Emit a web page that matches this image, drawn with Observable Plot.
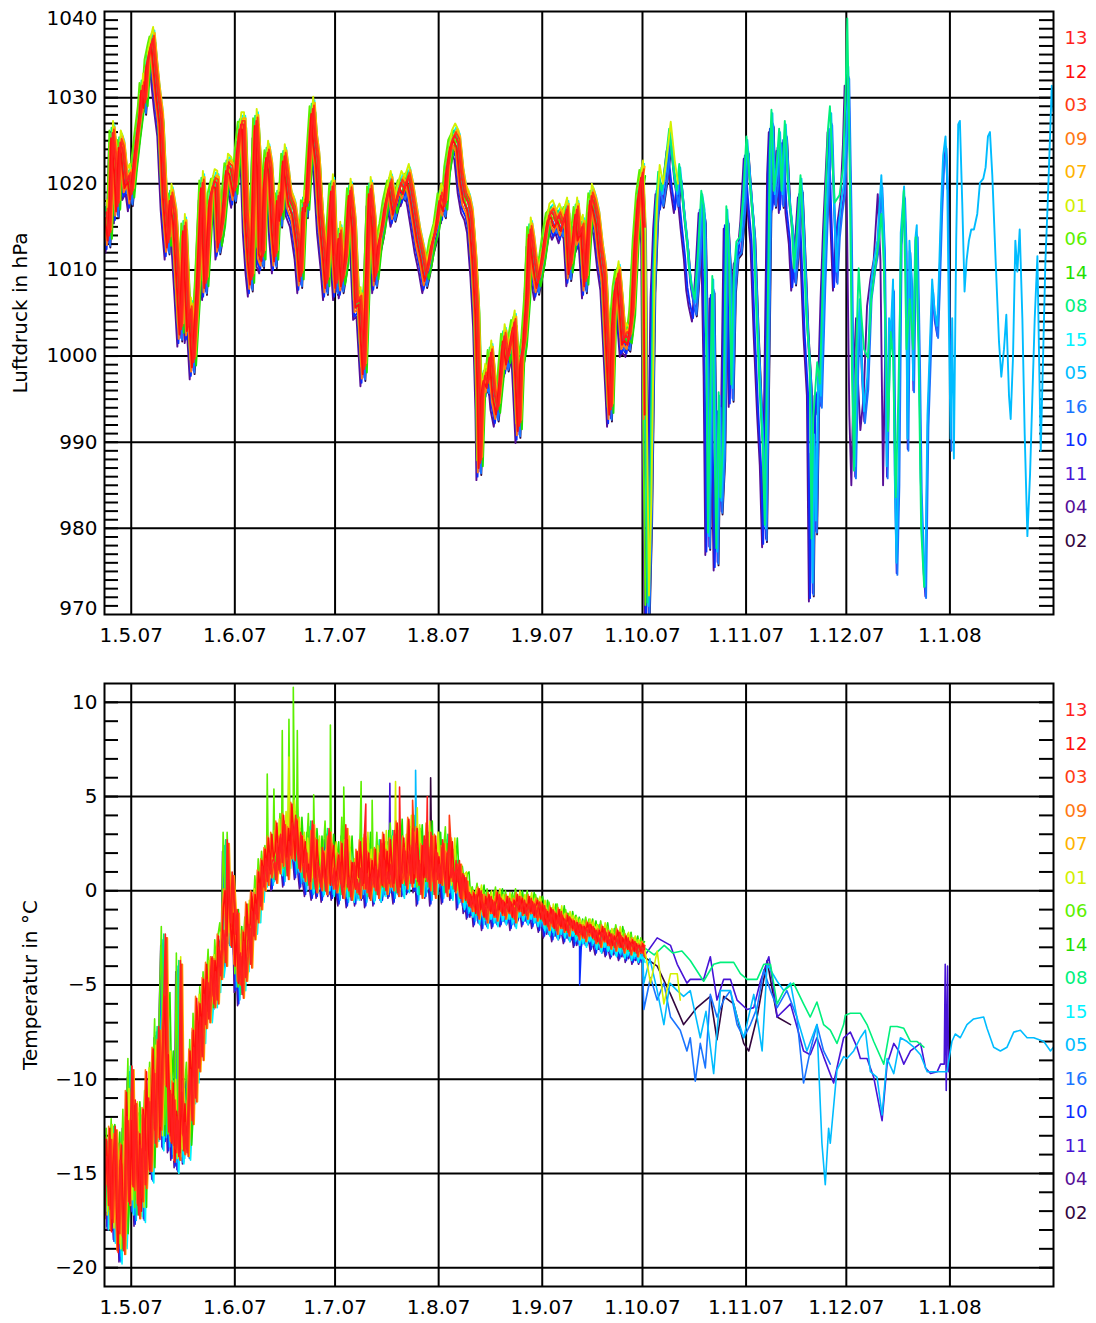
<!DOCTYPE html>
<html>
<head>
<meta charset="utf-8">
<script src="https://cdn.jsdelivr.net/npm/d3@7"></script>
<script src="https://cdn.jsdelivr.net/npm/@observablehq/plot@0.6"></script>
<style>
  html, body { margin: 0; padding: 0; background: #fff; }
  #chart svg { display: block; }
</style>
</head>
<body>
<div id="chart"></div>
<script>
// Buoy identifiers (legend order, top to bottom) and their colours
const buoys = ["13","12","03","09","07","01","06","14","08","15","05","16","10","11","04","02"];
const buoyColors = ["#ff1f1f","#ff0d0d","#ff3c14","#ff7814","#ffb300","#d2f000","#5cf000","#1fdf00",
                    "#00f07c","#00f2ff","#00bcff","#1a74ff","#0a2cff","#4814d6","#560f98","#33063f"];

// Month ticks of the time axis
const monthTicks  = ["2007-05-01","2007-06-01","2007-07-01","2007-08-01","2007-09-01","2007-10-01","2007-11-01","2007-12-01","2008-01-01"];
const monthLabels = ["1.5.07","1.6.07","1.7.07","1.8.07","1.9.07","1.10.07","1.11.07","1.12.07","1.1.08"];

// Value axes
const pressureTicks = [970, 980, 990, 1000, 1010, 1020, 1030, 1040];
const temperatureTicks = [-20, -15, -10, -5, 0, 5, 10];

// Time is given in days after 1 May 2007
// Common pressure record of the drifting array (hPa), until the array breaks up in early October
const pressEnsemble = [
[-7.6,1016.5],[-6.7,1013.8],[-6.2,1018.4],[-5.7,1025.7],[-4.7,1021.5],[-4.2,1017.2],[-3.4,1024.6],[-2.7,1023.8],
[-1.7,1019.9],[-0.7,1020.7],[0,1018.6],[0.8,1021.9],[1.8,1025.4],[2.8,1028.5],[3.3,1031.2],[4.0,1029.2],[4.8,1033.9],
[5.8,1035.8],[6.3,1036.6],[7.0,1033.5],[7.8,1030.4],[8.8,1027.3],[9.8,1018.8],[10.5,1015.3],[11.0,1013.0],[11.8,1018.4],
[12.8,1016.1],[14.0,1008.3],[14.8,1002.9],[15.8,1014.9],[17.0,1003.3],[17.6,1005.2],[18.5,999.1],[19.9,1008.3],
[21.2,1019.9],[22.2,1008.3],[23.7,1018.4],[24.7,1020.1],[25.5,1019.9],[26.2,1013.0],[27.2,1015.3],[28.7,1021.9],
[29.7,1021.5],[30.9,1019.0],[31.9,1023.8],[32.7,1026.7],[33.5,1026.7],[34.4,1016.1],[35.2,1011.4],[35.9,1008.7],
[36.7,1019.9],[37.3,1027.1],[38.0,1022.3],[38.5,1012.2],[39.3,1011.4],[39.9,1019.6],[40.7,1023.4],[41.5,1021.5],
[42.3,1015.3],[43.1,1011.4],[43.9,1018.4],[44.7,1016.1],[45.7,1023.0],[46.5,1020.7],[47.3,1018.0],[48.5,1016.8],
[49.9,1013.0],[50.7,1009.1],[51.6,1017.6],[52.4,1017.2],[53.4,1023.8],[54.2,1028.5],[54.8,1025.0],[55.6,1022.6],
[56.6,1016.1],[57.6,1012.2],[58.4,1008.3],[59.4,1015.3],[60.1,1019.5],[60.8,1012.0],[61.4,1008.3],[62.3,1014.0],
[63.1,1008.5],[64.1,1011.0],[65.4,1019.0],[66.4,1015.3],[67.4,1006.0],[68.4,1006.4],[69.6,998.3],[71.4,1019.2],
[72.4,1015.3],[73.1,1009.1],[74.1,1013.0],[75.1,1014.9],[76.1,1017.6],[77.4,1019.9],[78.6,1016.8],[79.6,1018.4],
[80.6,1019.9],[81.6,1019.2],[82.8,1020.7],[83.6,1019.2],[84.6,1016.8],[85.8,1013.8],[87.1,1011.4],[88.1,1009.1],
[89.0,1010.7],[90.0,1013.0],[91.3,1014.9],[92.5,1018.4],[93.7,1017.2],[94.5,1021.5],[95.7,1024.6],[96.7,1025.4],
[97.7,1024.6],[98.7,1020.7],[99.7,1018.4],[100.7,1017.6],[101.5,1016.1],[102.5,1011.0],[103.3,1005.2],[104.0,995.6],
[104.3,987.4],[105.0,995.6],[105.7,997.5],[106.7,996.7],[107.5,1000.2],[108.5,995.6],[109.5,993.6],[110.5,997.5],
[111.5,1002.1],[112.5,999.4],[113.5,1001.4],[114.5,1003.7],[115.3,997.5],[116.0,991.7],[116.7,999.4],[117.5,1001.4],
[118.5,1006.8],[119.3,1014.5],[119.9,1013.0],[120.6,1010.7],[121.6,1008.3],[122.9,1011.0],[123.9,1013.8],[124.9,1016.1],
[125.9,1016.5],[126.9,1015.3],[127.9,1016.1],[128.9,1014.9],[130.2,1016.8],[131.2,1009.9],[132.2,1013.0],[133.2,1016.8],
[133.9,1013.8],[134.9,1014.8],[135.9,1008.5],[136.9,1014.8],[137.6,1018.4],[138.4,1017.5],[139.4,1015.7],[140.4,1012.1],
[141.4,1009.4],[142.2,1003.1],[142.9,997.7],[143.4,993.6],[144.2,1004.0],[144.9,1007.6],[145.6,1009.4],[146.4,1005.8],
[147.2,1001.7],[147.9,1002.2],[148.9,1001.7],[149.9,1004.9],[150.9,1013.0],[151.9,1018.4],[152.9,1021.1],[153.6,1014.8],
[154.0,993.6]
];

// Pressure of the remaining buoys from October on (hPa)
const pressLate = [
[154.7,970.6],[155.4,981.4],[156.4,1008.5],[157.2,1016.6],[157.9,1020.6],[158.9,1018.4],[159.9,1021.1],[161.2,1025.6],
[162.4,1021.1],[163.4,1018.4],[164.2,1021.5],[165.4,1016.6],[166.4,1013.0],[167.1,1009.4],[167.8,1007.6],[168.8,1005.8],
[169.8,1011.2],[170.8,1018.4],[171.5,1016.6],[172.3,999.5],[172.8,978.7],[173.3,990.5],[174.1,1008.5],[174.8,988.2],
[175.3,976.9],[176.0,995.0],[176.5,982.8],[177.3,989.1],[178.3,1016.6],[179.1,1010.7],[179.8,995.9],[180.5,1008.5],
[181.3,1012.5],[182.3,1013.0],[183.3,1017.5],[184.3,1024.7],[185.3,1019.3],[186.3,1014.8],[187.3,1004.0],[188.3,995.0],
[189.1,989.1],[189.8,979.6],[190.5,999.5],[191.3,1022.9],[191.8,1027.8],[192.5,1018.4],[193.3,1021.1],[194.1,1025.6],
[194.8,1018.4],[195.8,1026.5],[196.8,1018.4],[197.8,1014.8],[198.5,1009.4],[199.3,1013.0],[200.5,1020.2],[201.2,1013.9],
[202.2,1004.0],[203.2,997.2],[203.8,973.3],[204.3,990.5],[204.8,980.5],[205.5,997.2],[206.3,995.0],[207.3,1008.5],
[208.0,1016.1],[208.7,1022.0],[209.4,1027.8],[210.2,1017.5],[211.0,1009.4],[211.7,1014.8],[212.4,1017.5],[213.2,1019.7],
[214.0,1026.5],[214.5,1033.2],[215.2,1017.5],[215.9,995.0],[216.5,986.8],[217.2,999.5],[217.9,1006.2],[218.4,999.5],
[219.2,993.2],[220.2,997.2],[221.2,1007.6],[222.2,1010.7],[223.2,1013.0],[224.4,1020.6],[225.2,1013.0],[226.0,986.8],
[226.7,1004.0],[227.2,1002.2],[227.9,1008.5],[228.4,985.9],[228.9,975.6],[229.5,985.9],[230.2,1013.9],[231.2,1019.3],
[231.7,1013.0],[232.2,990.0],[232.8,1013.0],[233.4,1008.5],[233.9,996.8],[234.5,1013.0],[235.0,1014.8],[235.7,999.5],
[236.2,985.0],[237.0,975.6],[237.5,972.9],[238.2,992.7],[239.0,1001.7],[239.6,1008.5],[240.3,1004.9],[241.1,1003.1],
[241.6,1008.5],[242.3,1017.5],[242.9,1022.9],[243.6,1025.1],[244.1,1020.2],[244.6,1004.0],[245.1,990.0],[245.6,1004.0],
[246.1,987.7],[246.8,1013.0],[247.4,1026.5],[247.9,1026.9],[248.6,1017.5],[249.3,1007.1],[249.9,1010.7],[250.6,1013.0],
[251.3,1014.3],[252.1,1014.3],[253.1,1016.1],[253.9,1019.7],[254.9,1020.2],[255.6,1021.5],[256.3,1025.1],[256.9,1025.6],
[257.6,1020.6],[258.6,1010.7],[259.6,1001.3],[260.3,997.2],[261.1,1000.4],[261.8,1004.4],[262.6,995.0],[263.1,992.3],
[263.8,999.5],[264.5,1013.0],[265.1,1009.4],[265.8,1014.3],[266.6,1004.0],[267.3,990.5],[268.1,978.7],[268.9,985.9],
[269.6,995.0],[270.3,1004.0],[271.1,1011.2],[271.6,999.5],[272.1,988.6],[272.8,999.5],[273.5,1010.7],[274.2,1017.5],
[274.8,1024.2],[275.4,1031.0],[275.9,1028.0]
];

// Buoy 08 in December, where it departs from the others (hPa)
const press08Late = [
[203.2,999.0],[203.8,978.0],[204.3,992.0],[205.5,998.5],[206.3,996.0],[207.3,1010.0],[208.0,1018.0],[208.7,1025.5],
[209.3,1028.2],[210.0,1022.0],[210.7,1017.0],[212.2,1017.9],[213.2,1021.0],[214.0,1030.0],[214.5,1038.4],[215.2,1022.0],
[215.9,997.0],[216.5,985.9],[217.2,1000.5],[217.9,1009.4],[218.7,1004.0],[219.5,1000.0],[220.7,999.0],[221.7,1006.0],
[222.7,1009.0],[223.7,1012.0],[224.7,1015.7],[225.4,1010.0],[226.7,990.5],[227.5,1002.0],[228.2,999.0],[229.0,982.8],
[229.8,995.0],[230.6,1012.0],[231.4,1018.4],[232.2,1000.0],[233.2,1005.8],[234.2,1000.0],[235.0,1013.0],[235.8,1000.0],
[236.6,979.2],[237.5,972.4]
];

// Per-buoy time shift (hours), pressure offset (hPa) and last day of the pressure record
const pressLagHours = [3, -8, 12, -14, 18, 6, -20, 22, -5, 15, 2, 9, -16, 4, -24, 11];
const pressOffset   = [0.2, -0.4, 0.6, -0.9, 0.9, 1.6, 0.5, -0.2, 0.8, 1.2, 0.4, -1.0, -1.4, -0.8, -1.8, -1.2];
const pressEnd      = [154, 154, 154, 154, 154, 164.4, 154, 154, 237.5, 154, 276, 245.5, 212, 244.6, 226, 206];

// Air temperature (°C) sampled every half day from day -7.5, as seen by the first group of buoys
const tempStart = -7.5;
const tempStep = 0.5;
const tempEnsemble = [
-14.2,-16.8,-13.1,-17.5,-15.0,-12.6,-16.9,-18.1,-14.4,-16.2,
-19.2,-15.3,-12.1,-16.6,-13.0,-9.4,-15.8,-11.2,-14.9,-17.3,
-13.6,-16.4,-12.0,-15.7,-13.3,-11.1,-14.8,-12.2,-9.6,-13.5,
-10.4,-7.3,-12.6,-9.8,-6.2,-2.4,-9.1,-12.9,-10.7,-13.4,
-11.0,-13.8,-12.1,-14.2,-3.8,-11.6,-13.9,-12.4,-14.0,-10.8,
-9.6,-12.3,-8.4,-11.1,-7.0,-9.5,-6.8,-8.9,-5.6,-7.2,
-4.8,-6.9,-5.2,-3.6,-6.1,-4.4,-5.9,-3.1,-4.6,-2.8,
-2.2,-3.9,2.6,-0.4,-1.8,0.9,-0.6,-2.4,-1.1,-4.9,
-3.4,-5.6,-2.8,-4.7,-3.2,-1.9,-4.0,-1.2,-2.5,-0.8,
-1.6,0.3,-0.9,1.2,0.1,1.6,0.4,1.9,0.8,1.5,
1.6,0.5,2.4,1.0,2.9,1.4,3.6,1.8,0.7,2.5,
1.8,3.5,2.6,3.9,2.2,1.1,3.0,1.5,0.6,2.1,
0.9,0.2,1.8,3.6,0.6,0.0,1.4,0.9,0.1,2.2,
0.8,-0.1,1.6,3.2,1.0,0.2,1.1,0.0,0.6,1.6,
0.3,-0.3,0.9,3.4,0.1,0.6,-0.4,0.5,1.4,0.0,
0.5,-0.3,1.1,0.2,2.6,0.0,0.8,-0.4,0.4,1.0,
0.1,1.2,-0.3,0.7,2.6,0.3,1.5,-0.1,0.9,0.3,
1.3,0.1,3.1,0.6,-0.2,1.6,0.5,1.0,2.2,0.2,
1.1,2.0,0.3,3.2,0.8,2.4,0.4,1.5,-0.3,1.2,
2.8,0.6,1.9,0.1,3.0,1.0,-0.3,2.1,0.5,1.3,
0.4,2.6,0.8,-0.2,1.7,2.9,0.6,1.1,0.0,1.5,
0.4,1.5,-0.5,0.8,-0.1,0.6,-0.7,-0.2,-1.0,-0.4,
-0.9,-0.3,-1.4,-0.6,-0.1,-1.2,-0.8,-1.6,-0.5,-1.1,
-0.4,-1.3,-0.7,-1.5,-0.9,-0.3,-1.2,-0.6,-1.4,-0.8,
-1.1,-0.5,-1.3,-0.8,-1.6,-0.7,-1.0,-0.4,-1.2,-0.9,
-0.6,-1.4,-0.9,-1.1,-0.5,-1.3,-0.8,-1.5,-1.0,-0.7,
-1.2,-1.7,-0.9,-1.5,-2.0,-1.3,-1.8,-1.1,-1.6,-2.2,
-1.4,-1.9,-1.2,-2.1,-1.6,-1.8,-2.3,-1.5,-2.0,-1.7,
-2.2,-1.8,-2.5,-1.9,-2.4,-2.0,-2.6,-2.1,-2.3,-1.9,
-2.4,-2.0,-2.7,-2.2,-2.5,-2.9,-2.3,-2.6,-2.1,-2.8,
-2.5,-3.0,-2.4,-2.7,-3.1,-2.6,-2.9,-2.3,-2.8,-3.2,
-2.7,-3.0,-2.6,-3.3,-2.9,-3.1,-2.8,-3.4,-3.0,-3.2,
-3.1,-3.4,-3.0,-3.3
];

// The same period as seen by the second group of buoys (°C, half-day steps from day -7.5 to day 99.5)
const tempEnsembleB = [
-17.6,-13.4,-15.9,-12.8,-18.3,-14.7,-13.2,-17.0,-19.4,-15.1,
-13.7,-18.6,-16.3,-10.9,-14.2,-16.8,-12.4,-15.9,-11.6,-13.8,
-16.9,-13.1,-17.2,-11.8,-14.0,-9.8,-13.6,-15.1,-11.3,-8.6,
-12.9,-11.0,-8.2,-13.4,-10.1,-7.5,-5.8,-10.6,-8.9,-12.2,
-13.6,-10.4,-14.6,-11.9,-12.8,-14.1,-10.9,-13.2,-11.5,-13.9,
-12.1,-8.7,-10.9,-7.6,-9.8,-5.9,-8.3,-6.2,-7.7,-4.9,
-6.3,-4.1,-6.6,-5.5,-3.8,-5.8,-3.9,-5.0,-2.6,-4.2,
-3.5,-1.1,-0.2,-2.6,0.4,-1.5,-3.2,-1.4,-4.2,-2.3,
-5.1,-3.6,-4.9,-2.4,-3.9,-0.9,-2.7,-2.0,-0.3,-1.9,
-0.4,-1.3,0.8,-0.2,1.4,0.6,2.0,1.1,2.6,0.9,
2.8,1.5,1.9,3.4,1.2,2.6,1.7,3.8,2.3,1.6,
3.1,2.0,4.4,2.8,1.4,3.5,1.8,0.9,2.7,1.3,
2.4,0.8,1.2,0.3,2.9,1.6,0.5,2.5,1.0,0.2,
0.6,1.8,0.4,1.3,2.6,0.1,1.4,2.2,0.3,0.9,
1.7,0.4,2.3,0.0,1.1,2.5,0.6,-0.2,1.3,0.7,
-0.1,1.9,0.5,2.4,0.9,0.2,2.7,0.6,1.8,-0.2,
1.4,0.3,2.0,-0.2,0.8,1.7,0.1,2.8,0.6,1.9,
0.4,2.5,1.1,0.2,1.9,3.4,0.7,0.0,1.2,2.6,
0.3,1.5,3.6,0.6,2.1,0.2,1.6,3.1,0.9,0.1,
2.2,0.5,1.3,3.3,0.4,2.0,1.1,0.2,2.7,0.8,
1.6,0.2,2.1,1.0,0.3,1.8,-0.1,0.9,2.4,0.5,
-0.2,0.9,0.1,-0.6,0.5
];
const tempGroupB = ["12","09","01","14","15","16","11","02"];

// Per-buoy time shift (hours) and temperature offset (°C)
const tempLagHours = [5, -10, 14, -18, 20, 8, -24, 26, -6, 18, -12, 10, -20, 4, -28, 12];
const tempOffset   = [0.1, 0.2, -0.1, 0.3, -0.1, 0.4, 0.5, 0.4, 0.1, -0.4, -0.2, -0.3, -0.4, -0.2, -0.5, -0.2];

// Single warm (or cold) readings of individual buoys: [day, °C]
const tempPeaks06 = [[28.7,3.1],[40.7,6.2],[42.7,5.4],[45.2,8.5],[47.2,9.1],[48.5,10.8],[49.7,8.5],[54.6,5.1],[59.6,8.8],[63.6,5.5],[68.8,5.8],[72.1,4.8]];
const tempPeaks01 = [[14.8,-3.5],[47.2,7.1],[79.1,5.8],[85.6,4.4]];
const tempPeaks13 = [[70.2,4.6],[80.3,5.5],[88.6,5.0]];
const tempPeaks03 = [[84.2,4.8],[95.2,4.0]];
const tempPeaks05 = [[85.1,6.4]];
const tempPeaks02 = [[89.6,6.0]];
const tempPeaks11 = [[77.4,5.7]];
const tempPeaks10 = [[134.2,-5.0]];

// Temperatures of the buoys still reporting after the array broke up: [day, °C]
const temp01Late = [[153.4,-2.8],[155.4,-4.9],[157.4,-3.2],[159.4,-6.0],[161.4,-4.4],[163.4,-4.4],[164.3,-5.8]];
const temp08Late = [[153.4,-3.0],[156.5,-3.4],[159.5,-2.9],[162.0,-3.3],[164.8,-3.2],[167.3,-3.7],[171.3,-4.8],[174.3,-3.9],
  [176.3,-3.8],[180.3,-3.8],[182.3,-4.4],[184.3,-4.7],[187.3,-4.7],[189.3,-3.9],[191.3,-3.9],[193.3,-6.0],[195.3,-5.3],
  [198.2,-4.9],[201.2,-6.0],[203.2,-6.7],[205.2,-5.9],[207.2,-7.1],[209.2,-7.4],[211.2,-8.1],[213.2,-7.1],[213.7,-6.6],
  [215.2,-6.5],[218.2,-6.5],[220.2,-7.1],[222.2,-8.0],[225.2,-9.2],[227.2,-7.2],[229.2,-7.2],[231.2,-7.3],[233.2,-8.0],
  [235.2,-8.0],[237.2,-8.3]];
const temp05Late = [[153.4,-4.9],[155.2,-3.6],[157.4,-5.3],[159.4,-7.1],[161.2,-4.9],[163.4,-5.3],[165.3,-5.6],[167.3,-5.3],
  [170.3,-7.8],[172.0,-6.4],[174.3,-9.7],[176.3,-5.3],[179.3,-5.3],[181.3,-6.7],[183.3,-7.8],[186.3,-5.5],[188.8,-8.5],
  [190.3,-3.9],[193.3,-4.8],[195.3,-5.3],[197.3,-4.9],[199.2,-6.7],[202.2,-8.5],[205.2,-7.1],[206.7,-13.4],[207.7,-15.6],
  [208.7,-12.6],[209.2,-13.4],[211.2,-9.5],[213.2,-8.8],[214.2,-8.9],[216.2,-8.5],[218.2,-7.8],[219.7,-7.4],[221.2,-9.6],
  [223.2,-9.9],[224.7,-11.9],[226.2,-8.9],[228.2,-9.7],[230.2,-7.8],[232.2,-8.0],[234.2,-8.3],[236.2,-8.7],[238.2,-9.6],
  [240.2,-9.6],[242.2,-9.6],[244.1,-9.6],[245.6,-8.0],[246.6,-7.6],[248.1,-7.8],[250.1,-7.1],[252.1,-6.8],[255.1,-6.7],
  [256.1,-7.3],[258.1,-8.3],[260.1,-8.5],[262.1,-8.3],[264.1,-7.5],[266.1,-7.4],[268.1,-7.8],[270.1,-7.8],[273.1,-8.0],
  [275.1,-8.5],[276.0,-8.3]];
const temp16Late = [[153.4,-6.3],[155.4,-4.6],[157.4,-5.8],[159.4,-4.9],[161.4,-6.7],[164.3,-7.4],[166.3,-8.5],[167.3,-7.8],
  [168.8,-10.1],[170.3,-8.1],[171.8,-9.4],[173.3,-5.5],[175.3,-6.7],[177.3,-5.8],[179.3,-5.3],[181.3,-7.1],[183.3,-7.8],
  [185.3,-7.1],[187.3,-6.2],[189.3,-4.2],[191.3,-5.3],[193.3,-6.2],[196.2,-5.3],[199.2,-6.7],[201.2,-10.2],[203.2,-8.5],
  [205.2,-7.1],[207.2,-8.5],[209.2,-9.2]];
const temp11Late = [[153.4,-3.5],[157.4,-2.5],[161.4,-2.9],[163.4,-3.9],[166.3,-4.9],[167.3,-4.7],[171.3,-4.7],[173.3,-3.5],
  [175.3,-5.8],[177.3,-4.7],[179.3,-4.7],[181.3,-5.8],[184.3,-6.3],[186.3,-6.2],[188.3,-4.8],[190.8,-3.5],[192.3,-5.3],
  [193.3,-6.7],[197.3,-6.0],[199.2,-7.2],[201.2,-8.5],[203.2,-8.7],[205.2,-7.8],[207.2,-8.8],[210.2,-10.2],[213.2,-7.8],
  [215.2,-7.5],[217.2,-8.3],[218.2,-8.9],[220.2,-8.9],[222.2,-9.9],[224.7,-12.2],[226.2,-9.2],[228.2,-8.1],[229.7,-8.5],
  [231.2,-9.2],[233.2,-8.5],[236.2,-8.1],[237.7,-9.4],[239.2,-9.7],[241.2,-9.6],[242.2,-9.2],[243.3,-9.2],[243.6,-3.9],
  [243.9,-10.6],[244.3,-4.0],[244.6,-9.6]];
const temp02Late = [[153.4,-3.5],[157.4,-4.0],[161.4,-5.5],[165.3,-7.1],[169.3,-6.2],[173.3,-5.6],[175.3,-7.9],[177.3,-5.6],
  [180.3,-6.0],[183.3,-8.1],[184.8,-8.5],[187.3,-6.7],[190.3,-3.7],[193.3,-6.7],[197.3,-7.1]];

const tempPeaks = {"06": tempPeaks06, "01": tempPeaks01, "13": tempPeaks13, "03": tempPeaks03, "05": tempPeaks05,
                   "02": tempPeaks02, "11": tempPeaks11, "10": tempPeaks10};
const tempLate = {"01": temp01Late, "08": temp08Late, "05": temp05Late, "16": temp16Late, "11": temp11Late, "02": temp02Late};
const tempEnsembleEnd = 154;

// ---- build the per-buoy records ----
const DAY0 = Date.UTC(2007, 4, 1);
const day = t => new Date(DAY0 + t * 86400000);

function pressureRecord(i) {
  const b = buoys[i], lag = pressLagHours[i] / 24, off = pressOffset[i], end = pressEnd[i];
  const src = b === "08"
    ? pressEnsemble.concat(pressLate.filter(([t]) => t < 203), press08Late)
    : pressEnsemble.concat(pressLate);
  const out = [];
  for (const [t, p] of src) {
    const tt = t + lag;
    if (tt <= end) out.push({date: day(tt), value: p + off});
  }
  return out;
}

function temperatureRecord(i) {
  const b = buoys[i], lag = tempLagHours[i] / 24, off = tempOffset[i];
  const late = tempLate[b];
  const cut = late ? late[0][0] : tempEnsembleEnd;
  const groupB = tempGroupB.includes(b);
  let pts = tempEnsemble.map((v, k) => {
    const v2 = groupB && k < tempEnsembleB.length ? tempEnsembleB[k] : v;
    return [tempStart + k * tempStep + lag, v2 + off];
  }).filter(([t]) => t < cut);
  if (tempPeaks[b]) pts = pts.concat(tempPeaks[b].filter(([t]) => t < cut)).sort((a, c) => a[0] - c[0]);
  if (late) pts = pts.concat(late);
  return pts.map(([t, v]) => ({date: day(t), value: v}));
}

// ---- drawing ----
const WIDTH = 1096, ML = 104, MR = 43;
const FRAME_W = WIDTH - ML - MR;
const monthDates = monthTicks.map(s => new Date(s + "T00:00:00Z"));
const labelOf = new Map(monthDates.map((d, i) => [+d, monthLabels[i]]));
const numFmt = d => d < 0 ? "\u2212" + Math.abs(d) : String(d);
const FONT = "DejaVu Sans, Verdana, sans-serif";

function panel({height, marginTop, marginBottom, yDomain, gridValues, labelValues, edgeLabels, minor, title, titleDx, records, curve, strokeWidth}) {
  const marks = [
    Plot.ruleX(monthDates, {x: d => d, stroke: "black", strokeWidth: 2}),
    Plot.ruleY(gridValues, {y: d => d, stroke: "black", strokeWidth: 2}),
    Plot.tickY(minor, {y: d => d, stroke: "black", strokeWidth: 2, insetRight: FRAME_W - 14}),
    Plot.tickY(minor, {y: d => d, stroke: "black", strokeWidth: 2, insetLeft: FRAME_W - 14})
  ];
  // draw from the last legend entry to the first, so 13 ends on top
  for (let i = buoys.length - 1; i >= 0; --i) {
    const rec = records(i);
    if (rec.length) marks.push(Plot.line(rec, {x: "date", y: "value", stroke: buoyColors[i], strokeWidth, curve, clip: true, strokeLinejoin: "round"}));
  }
  marks.push(
    Plot.frame({stroke: "black", strokeWidth: 2}),
    Plot.axisX({ticks: monthDates, tickFormat: d => labelOf.get(+d), tickSize: 0, tickPadding: 13, fontSize: 20, label: null}),
    Plot.axisY({ticks: labelValues, tickFormat: numFmt, tickSize: 0, tickPadding: 7, fontSize: 20, label: null})
  );
  for (const [v, dy] of edgeLabels) {
    marks.push(Plot.axisY({ticks: [v], tickFormat: numFmt, tickSize: 0, tickPadding: 7, fontSize: 20, label: null, dy}));
  }
  marks.push(Plot.text([title], {text: d => d, frameAnchor: "left", textAnchor: "middle", dx: titleDx, rotate: -90, fontSize: 20}));
  buoys.forEach((b, i) => {
    marks.push(Plot.text([b], {text: d => d, frameAnchor: "top-right", dx: 11, dy: 20 + 33.5 * i, textAnchor: "start", fill: buoyColors[i], fontSize: 18}));
  });
  return Plot.plot({
    width: WIDTH, height, marginLeft: ML, marginRight: MR, marginTop, marginBottom,
    style: {fontFamily: FONT, background: "white", color: "black"},
    x: {type: "utc", domain: [day(-8), day(276)], axis: null},
    y: {domain: yDomain, axis: null},
    marks
  });
}

const pressurePanel = panel({
  height: 650, marginTop: 11, marginBottom: 36, yDomain: [970, 1040],
  gridValues: pressureTicks.slice(1, -1),
  labelValues: pressureTicks.slice(1, -1),
  edgeLabels: [[1040, 7], [970, -6]],
  minor: d3.range(971, 1040),
  title: "Luftdruck in hPa", titleDx: -84,
  records: pressureRecord, curve: "linear", strokeWidth: 1.9
});

const temperaturePanel = panel({
  height: 673, marginTop: 33, marginBottom: 37, yDomain: [-21, 11],
  gridValues: temperatureTicks,
  labelValues: temperatureTicks,
  edgeLabels: [],
  minor: d3.range(-20, 11),
  title: "Temperatur in \u00B0C", titleDx: -74,
  records: temperatureRecord, curve: "linear", strokeWidth: 1.6
});

document.getElementById("chart").append(pressurePanel, temperaturePanel);
</script>
</body>
</html>
